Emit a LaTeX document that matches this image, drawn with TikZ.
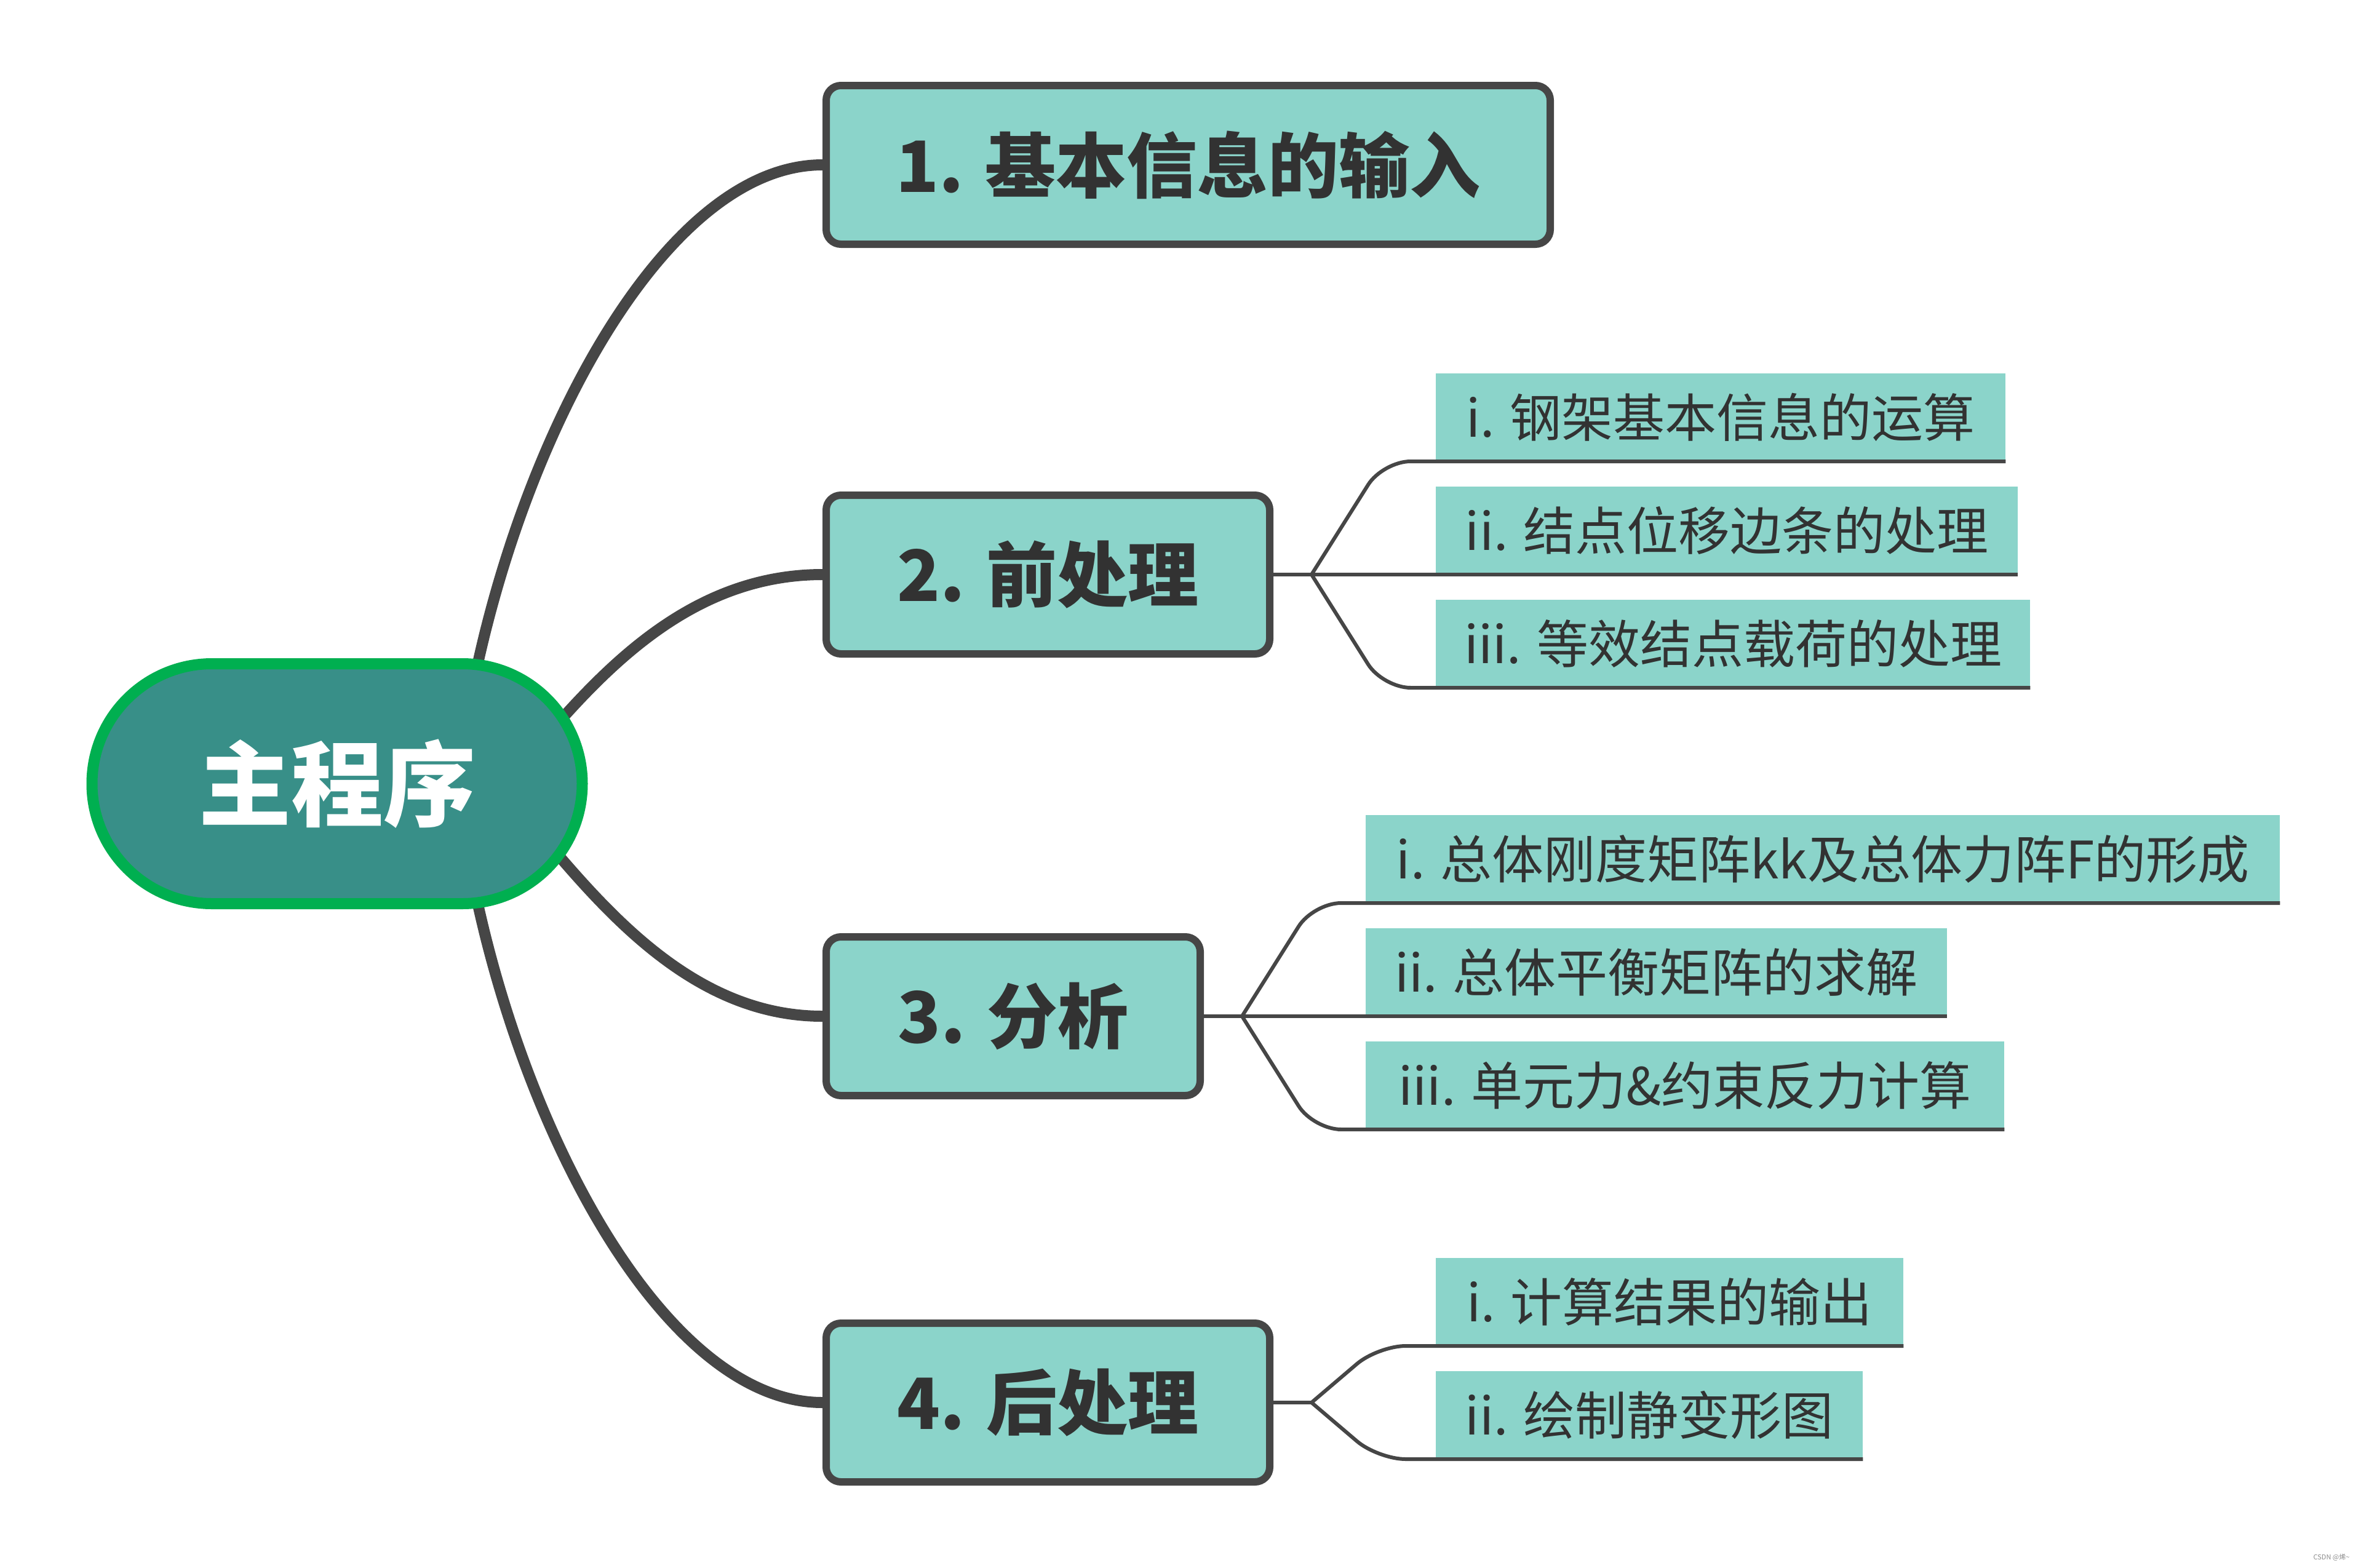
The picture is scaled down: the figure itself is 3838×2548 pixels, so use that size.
\documentclass[tikz,border=0pt]{standalone}
\usepackage{fontspec}
\setmainfont{Noto Sans CJK SC}
\pgfdeclarelayer{bg}
\pgfsetlayers{bg,main}
\definecolor{rootfill}{HTML}{388F88}
\definecolor{rootedge}{HTML}{00AF50}
\definecolor{boxfill}{HTML}{8BD4CA}
\definecolor{linegray}{HTML}{464646}
\definecolor{textgray}{HTML}{323232}
\tikzset{
  rootnode/.style={draw=rootedge, line width=18pt, fill=rootfill, rounded corners=195pt,
    minimum width=797pt, minimum height=390pt, inner sep=0pt, text=white,
    font=\fontsize{150}{160}\selectfont\bfseries},
  mainbox/.style={draw=linegray, line width=12pt, fill=boxfill, rounded corners=24pt,
    minimum height=258pt, inner sep=0pt, text=textgray,
    font=\fontsize{115}{120}\selectfont\bfseries},
  subitem/.style={fill=boxfill, minimum height=143pt, inner sep=0pt, text=textgray,
    anchor=south west, font=\fontsize{84}{90}\selectfont},
  maincurve/.style={draw=linegray, line width=18pt},
  branch/.style={draw=linegray, line width=6pt},
  sidebranch/.style={draw=linegray, line width=6pt, rounded corners=45pt}
}
\begin{document}
\begin{tikzpicture}[x=1pt,y=-1pt]
\useasboundingbox (0,0) rectangle (3838,2548);

% root
\node[rootnode] (root) at (548,1274) {主程序};

% level-1 boxes
\node[mainbox, minimum width=1177pt] (b1) at (1931.5,268) {1. 基本信息的输入};
\node[mainbox, minimum width=721pt] (b2) at (1703.5,934) {2. 前处理};
\node[mainbox, minimum width=608pt] (b3) at (1647,1652) {3. 分析};
\node[mainbox, minimum width=721pt] (b4) at (1703.5,2280) {4. 后处理};

% main curves (behind)
\begin{pgfonlayer}{bg}
\fill[white] (0,0) rectangle (3838,2548);
\coordinate (s1) at (770,1110);
\coordinate (s2) at (889,1196);
\coordinate (s3) at (887,1366);
\coordinate (s4) at (770,1438);
\draw[maincurve] (s1) .. controls (856,690) and (1087,268) .. (b1.west);
\draw[maincurve] (s2) .. controls (1000,1068) and (1137,934) .. (b2.west);
\draw[maincurve] (s3) .. controls (997,1496) and (1137,1652) .. (b3.west);
\draw[maincurve] (s4) .. controls (856,1858) and (1087,2280) .. (b4.west);
\end{pgfonlayer}

% group 2 items
\node[subitem, minimum width=926pt] (a1) at (2334,750) {i. 钢架基本信息的运算};
\node[subitem, minimum width=946pt] (a2) at (2334,934) {ii. 结点位移边条的处理};
\node[subitem, minimum width=966pt] (a3) at (2334,1118) {iii. 等效结点载荷的处理};
% group 3 items
\node[subitem, minimum width=1486pt] (c1) at (2220,1468) {i. 总体刚度矩阵kk及总体力阵F的形成};
\node[subitem, minimum width=945pt] (c2) at (2220,1652) {ii. 总体平衡矩阵的求解};
\node[subitem, minimum width=1038pt] (c3) at (2220,1836) {iii. 单元力\&约束反力计算};
% group 4 items
\node[subitem, minimum width=760pt] (d1) at (2334,2188) {i. 计算结果的输出};
\node[subitem, minimum width=694pt] (d2) at (2334,2372) {ii. 绘制静变形图};

% forks and corners
\coordinate (f2) at (2132,934);
\coordinate (f3) at (2019,1652);
\coordinate (f4) at (2132,2280);
\coordinate (k2a) at (2248,750);
\coordinate (k2c) at (2248,1118);
\coordinate (k3a) at (2135,1468);
\coordinate (k3c) at (2135,1836);
\coordinate (k4a) at (2240,2188);
\coordinate (k4b) at (2240,2372);

% group 2 connectors
\draw[branch] (b2.east) -- (f2) -- (a2.south west) -- (a2.south east);
\draw[sidebranch] (f2) -- (k2a) -- (a1.south west) -- (a1.south east);
\draw[sidebranch] (f2) -- (k2c) -- (a3.south west) -- (a3.south east);
% group 3 connectors
\draw[branch] (b3.east) -- (f3) -- (c2.south west) -- (c2.south east);
\draw[sidebranch] (f3) -- (k3a) -- (c1.south west) -- (c1.south east);
\draw[sidebranch] (f3) -- (k3c) -- (c3.south west) -- (c3.south east);
% group 4 connectors
\draw[branch] (b4.east) -- (f4);
\draw[sidebranch] (f4) -- (k4a) -- (d1.south west) -- (d1.south east);
\draw[sidebranch] (f4) -- (k4b) -- (d2.south west) -- (d2.south east);

% watermark
\node[font=\fontsize{11}{12}\selectfont, text=black!45] (wm) at (3790,2532) {CSDN @烯\textasciitilde};
\end{tikzpicture}
\end{document}
